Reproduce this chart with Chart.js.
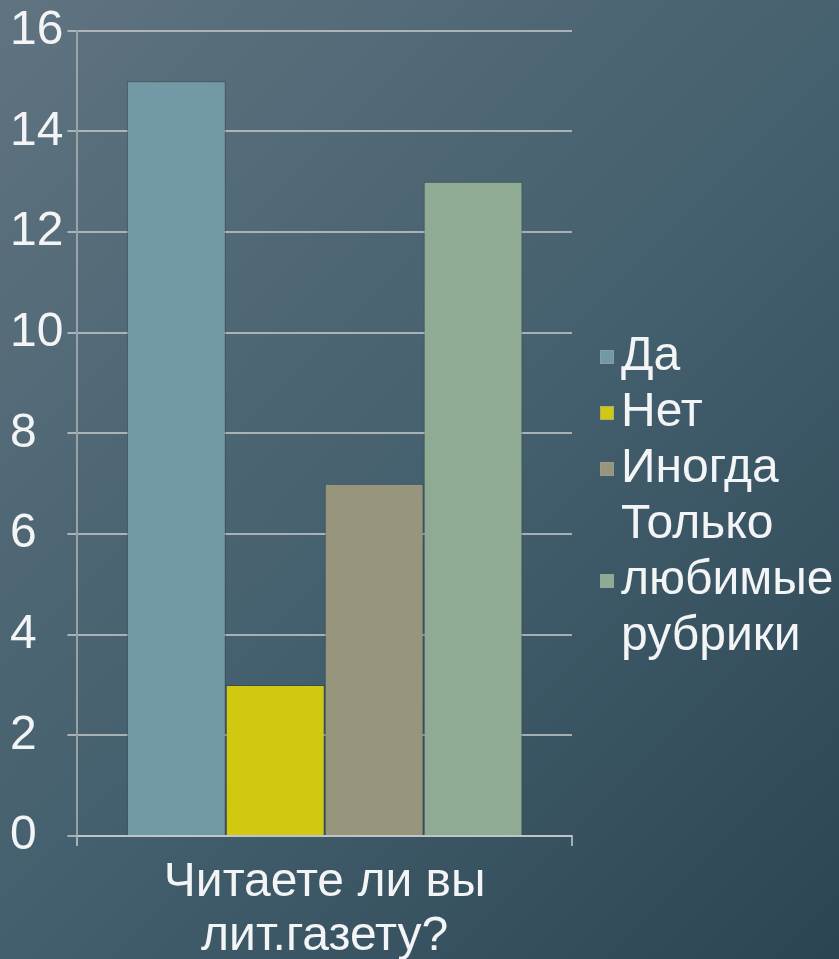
<!DOCTYPE html>
<html>
<head>
<meta charset="utf-8">
<script src="https://cdn.jsdelivr.net/npm/chart.js@4/dist/chart.umd.min.js"></script>
<style>
  html, body { margin: 0; padding: 0; }
  body {
    width: 839px; height: 959px; overflow: hidden;
    background: linear-gradient(135deg, #607380 0%, #45606e 50%, #2b4553 100%);
  }
  canvas { display: block; }
</style>
</head>
<body>
<canvas id="chart" width="839" height="959"></canvas>
<script>
// survey data
const categories = [['Читаете ли вы', 'лит.газету?']];
const seriesNames = [['Да'], ['Нет'], ['Иногда'], ['Только', 'любимые', 'рубрики']];
const seriesValues = [15, 3, 7, 13];
const seriesColors = ['#7399a6', '#d0c811', '#97967c', '#8fab93'];
const yMax = 16;
const yStep = 2;

const FONT = '"Liberation Sans", Arial, sans-serif';
const FONT_SIZE = 48;
const TEXT = '#f2f4f5';
const GRID = 'rgba(200,204,206,0.75)';

// legend on the right, one square per series, multi-line names
const sideLegend = {
  id: 'sideLegend',
  afterDraw(chart) {
    const ctx = chart.ctx;
    const lineH = 56;
    const boxX = 600, box = 14, textX = 621;
    let y = 357;
    ctx.save();
    ctx.font = FONT_SIZE + 'px ' + FONT;
    ctx.textBaseline = 'middle';
    chart.data.datasets.forEach((ds, i) => {
      const lines = seriesNames[i];
      const mid = y + (lines.length - 1) * lineH / 2;
      ctx.fillStyle = ds.backgroundColor;
      ctx.fillRect(boxX, mid - box / 2, box, box);
      ctx.strokeStyle = 'rgba(150,160,165,0.6)';
      ctx.lineWidth = 1;
      ctx.strokeRect(boxX + 0.5, mid - box / 2 + 0.5, box - 1, box - 1);
      ctx.fillStyle = TEXT;
      lines.forEach((t, k) => ctx.fillText(t, textX, y + k * lineH));
      y += lines.length * lineH;
    });
    ctx.restore();
  }
};

new Chart(document.getElementById('chart'), {
  type: 'bar',
  data: {
    labels: categories,
    datasets: seriesNames.map((name, i) => ({
      label: name.join(' '),
      data: [seriesValues[i]],
      backgroundColor: seriesColors[i],
      borderColor: 'rgba(40,52,58,0.45)',
      borderWidth: 1,
      categoryPercentage: 0.8,
      barPercentage: 1.0
    }))
  },
  options: {
    responsive: false,
    animation: false,
    layout: { padding: { left: 10, right: 267, top: 28, bottom: 0 } },
    plugins: {
      legend: { display: false },
      tooltip: { enabled: false }
    },
    scales: {
      x: {
        grid: { drawOnChartArea: false, color: GRID, lineWidth: 2, tickLength: 10, offset: true },
        border: { color: GRID, width: 2 },
        ticks: {
          color: TEXT,
          font: { family: FONT, size: FONT_SIZE, lineHeight: 1.125 },
          padding: 10,
          maxRotation: 0
        },
        // the two-line category label sits tight against the bottom edge
        afterFit: scale => { scale.height = 123; }
      },
      y: {
        min: 0,
        max: yMax,
        grid: { color: GRID, lineWidth: 2, tickLength: 10 },
        border: { color: 'rgba(170,178,182,0.8)', width: 2 },
        ticks: {
          stepSize: yStep,
          color: TEXT,
          font: { family: FONT, size: FONT_SIZE },
          crossAlign: 'far',
          padding: 2
        }
      }
    }
  },
  plugins: [sideLegend]
});
</script>
</body>
</html>
